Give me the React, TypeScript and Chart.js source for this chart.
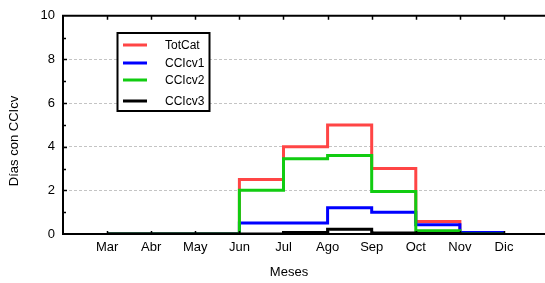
import React, { useEffect, useRef } from "react";
import { Chart, registerables } from "chart.js";

Chart.register(...registerables);

const months = ["Mar", "Abr", "May", "Jun", "Jul", "Ago", "Sep", "Oct", "Nov", "Dic"];
const monthIdx = [3, 4, 5, 6, 7, 8, 9, 10, 11, 12];
// values hold for the interval starting at each month (Mar..Nov)
const totCat = [0, 0, 0, 2.5, 4.0, 5.0, 3.0, 0.57, 0.07];
const ccicv1 = [0, 0, 0, 0.5, 0.5, 1.2, 1.0, 0.42, 0.07];
const ccicv2 = [0, 0, 0, 2.0, 3.45, 3.6, 1.95, 0.15, 0];
const ccicv3 = [0, 0, 0, 0, 0.07, 0.22, 0.05, 0.02, 0];
const yTicks = [0, 2, 4, 6, 8, 10];

const seriesNames = ["TotCat", "CCIcv1", "CCIcv2", "CCIcv3"];
const seriesColors = ["#ff4545", "#0000ff", "#11cc11", "#000000"];
const xTitle = "Meses";
const yTitle = "Días con CCIcv";

const FONT = "'Liberation Sans', Arial, sans-serif";

function toPoints(vals: number[]) {
  const pts = vals.map((v, i) => ({ x: monthIdx[i], y: v }));
  pts.push({ x: monthIdx[vals.length], y: vals[vals.length - 1] });
  return pts;
}

const framePlugin = {
  id: "frame",
  afterDatasetsDraw(chart: any) {
    const { ctx, chartArea } = chart;
    const xs = chart.scales.x;
    const ys = chart.scales.y;
    ctx.save();
    ctx.strokeStyle = "#000";
    // top border
    ctx.lineWidth = 2;
    ctx.beginPath();
    ctx.moveTo(chartArea.left - 1, chartArea.top);
    ctx.lineTo(chartArea.right + 5, chartArea.top);
    ctx.stroke();
    // inward ticks
    ctx.lineWidth = 1.5;
    ctx.beginPath();
    monthIdx.forEach((m) => {
      const px = Math.round(xs.getPixelForValue(m)) + 0.5;
      ctx.moveTo(px, chartArea.top);
      ctx.lineTo(px, chartArea.top + 4);
      ctx.moveTo(px, chartArea.bottom);
      ctx.lineTo(px, chartArea.bottom - 3);
    });
    for (let v = 1; v < 10; v++) {
      const py = Math.round(ys.getPixelForValue(v)) + 0.5;
      ctx.moveTo(chartArea.left, py);
      ctx.lineTo(chartArea.left + (v % 2 === 0 ? 4 : 3), py);
    }
    ctx.stroke();

    // axis titles
    ctx.fillStyle = "#000";
    ctx.font = `13px ${FONT}`;
    ctx.textAlign = "center";
    ctx.textBaseline = "middle";
    ctx.fillText(xTitle, 289, 272);
    ctx.save();
    ctx.translate(14, 141);
    ctx.rotate(-Math.PI / 2);
    ctx.fillText(yTitle, 0, 0);
    ctx.restore();

    // legend box
    const bx = 117.5, by = 33, bw = 92, bh = 78;
    ctx.lineWidth = 2;
    ctx.fillStyle = "#fff";
    ctx.fillRect(bx, by, bw, bh);
    ctx.strokeRect(bx, by, bw, bh);
    const rows = [45, 63, 80, 101];
    ctx.font = `12px ${FONT}`;
    ctx.textBaseline = "middle";
    ctx.textAlign = "left";
    seriesNames.forEach((name, i) => {
      ctx.strokeStyle = seriesColors[i];
      ctx.lineWidth = 3;
      ctx.beginPath();
      ctx.moveTo(123, rows[i]);
      ctx.lineTo(147, rows[i]);
      ctx.stroke();
      ctx.fillStyle = "#000";
      ctx.fillText(name, 165, rows[i] + 1);
    });
    ctx.restore();
  },
};

export default function App() {
  const ref = useRef<HTMLCanvasElement | null>(null);
  useEffect(() => {
    if (!ref.current) return;
    const series = [totCat, ccicv1, ccicv2, ccicv3];
    const chart = new Chart(ref.current, {
      type: "line",
      data: {
        datasets: series.map((vals, i) => ({
          label: seriesNames[i],
          data: toPoints(vals),
          borderColor: seriesColors[i],
          backgroundColor: seriesColors[i],
          borderWidth: 3,
          pointRadius: 0,
          stepped: "before" as const,
          fill: false,
          order: 4 - i,
        })),
      },
      options: {
        animation: false,
        responsive: false,
        layout: { padding: { top: 13, right: 0, left: 0, bottom: 0 } },
        plugins: { legend: { display: false }, tooltip: { enabled: false } },
        scales: {
          x: {
            type: "linear",
            min: 2,
            max: 12.93,
            afterFit: (s: any) => {
              s.height = 49;
            },
            afterBuildTicks: (s: any) => {
              s.ticks = monthIdx.map((v) => ({ value: v }));
            },
            ticks: {
              callback: (v: any) => {
                const i = monthIdx.indexOf(Number(v));
                return i >= 0 ? months[i] : "";
              },
              font: { family: FONT, size: 13 },
              color: "#000",
              padding: 6,
              maxRotation: 0,
              autoSkip: false,
            },
            grid: { display: false, drawTicks: false },
            border: { display: true, color: "#000", width: 2 },
          },
          y: {
            type: "linear",
            min: 0,
            max: 10,
            afterFit: (s: any) => {
              s.width = 63;
            },
            afterBuildTicks: (s: any) => {
              s.ticks = yTicks.map((v) => ({ value: v }));
            },
            ticks: {
              font: { family: FONT, size: 13 },
              color: "#000",
              padding: 8,
            },
            grid: {
              drawTicks: false,
              color: (c: any) => (c.tick && (c.tick.value === 0 || c.tick.value === 10) ? "rgba(0,0,0,0)" : "#c4c4c4"),
              lineWidth: 1,
            },
            border: { display: true, color: "#000", width: 2, dash: [3, 2] },
          },
        },
      },
      plugins: [framePlugin],
    });
    return () => chart.destroy();
  }, []);
  return (
    <div style={{ position: "absolute", left: 0, top: 0, width: 545, height: 283 }}>
      <canvas ref={ref} width={545} height={283} />
    </div>
  );
}
